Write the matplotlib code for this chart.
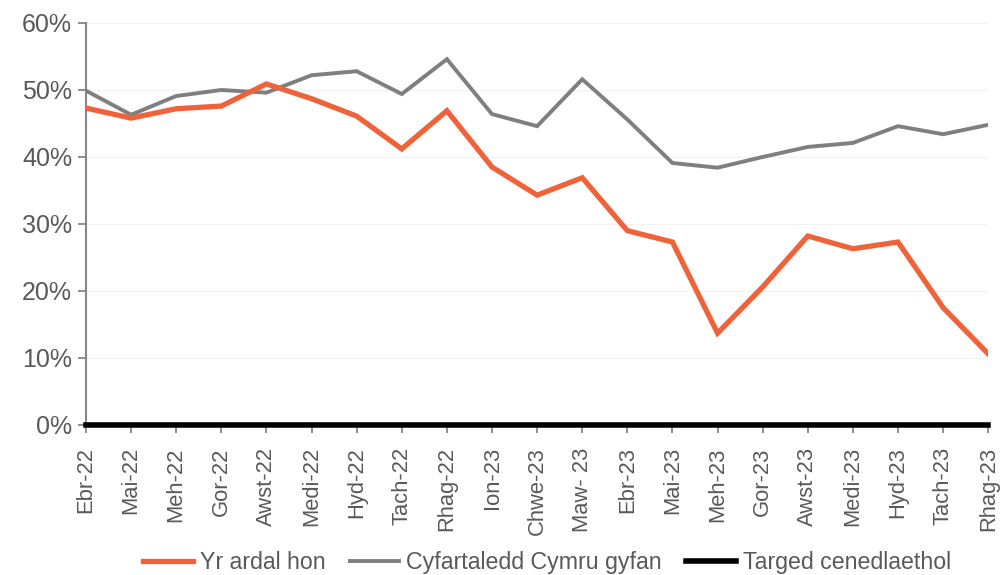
import matplotlib
matplotlib.use("Agg")
import matplotlib.pyplot as plt
from matplotlib.ticker import FuncFormatter

months = ["Ebr-22", "Mai-22", "Meh-22", "Gor-22", "Awst-22", "Medi-22", "Hyd-22",
          "Tach-22", "Rhag-22", "Ion-23", "Chwe-23", "Maw- 23", "Ebr-23", "Mai-23",
          "Meh-23", "Gor-23", "Awst-23", "Medi-23", "Hyd-23", "Tach-23", "Rhag-23"]

area = [47.3, 45.8, 47.2, 47.6, 50.9, 48.7, 46.1, 41.2, 46.9, 38.5, 34.3,
        36.9, 29.0, 27.3, 13.7, 20.6, 28.2, 26.3, 27.3, 17.5, 10.6]

wales = [49.9, 46.3, 49.1, 50.0, 49.6, 52.2, 52.8, 49.4, 54.6, 46.4, 44.6,
         51.6, 45.6, 39.1, 38.4, 40.0, 41.5, 42.1, 44.6, 43.4, 44.8]

target = [0.0] * len(months)

labels = ["Yr ardal hon", "Cyfartaledd Cymru gyfan", "Targed cenedlaethol"]
colors = ["#F0623A", "#7F7F7F", "#000000"]
text_color = "#595959"

plt.rcParams["font.family"] = ["Liberation Sans", "DejaVu Sans"]

fig = plt.figure(figsize=(10.02, 5.75), dpi=100)
ax = fig.add_axes([0.0858, 0.261, 0.9005, 0.699])

x = list(range(len(months)))
ax.plot(x, area, color=colors[0], lw=3.8, label=labels[0], solid_joinstyle="miter", zorder=4)
ax.plot(x, wales, color=colors[1], lw=2.8, label=labels[1], solid_joinstyle="miter", zorder=3)
ax.plot(x, target, color=colors[2], lw=4.0, label=labels[2], zorder=5, clip_on=False)

ax.set_xlim(0, len(months) - 1)
ax.set_ylim(0, 60)
ax.set_yticks(range(0, 61, 10))
ax.yaxis.set_major_formatter(FuncFormatter(lambda v, p: f"{v:.0f}%"))
ax.set_xticks(x)
ax.set_xticklabels(months, rotation=90)

ax.grid(axis="y", color="#F2F2F2", lw=0.8, zorder=0)
ax.set_axisbelow(True)

for s in ["top", "right", "bottom"]:
    ax.spines[s].set_visible(False)
ax.spines["left"].set_color("#868686")
ax.spines["left"].set_linewidth(1.5)

ax.tick_params(axis="y", colors="#868686", labelcolor=text_color, labelsize=18,
               length=6, width=1.3, pad=4)
ax.tick_params(axis="x", colors="#868686", labelcolor=text_color, labelsize=15.8,
               length=6, width=1.3, pad=10, direction="out")

fig.legend(loc="center", bbox_to_anchor=(0.546, 0.021), ncol=3, frameon=False,
           fontsize=16.7, handlelength=2.15, columnspacing=1.05, handletextpad=0.3,
           labelcolor=text_color, borderpad=0)

fig.savefig("out.png", dpi=100)
